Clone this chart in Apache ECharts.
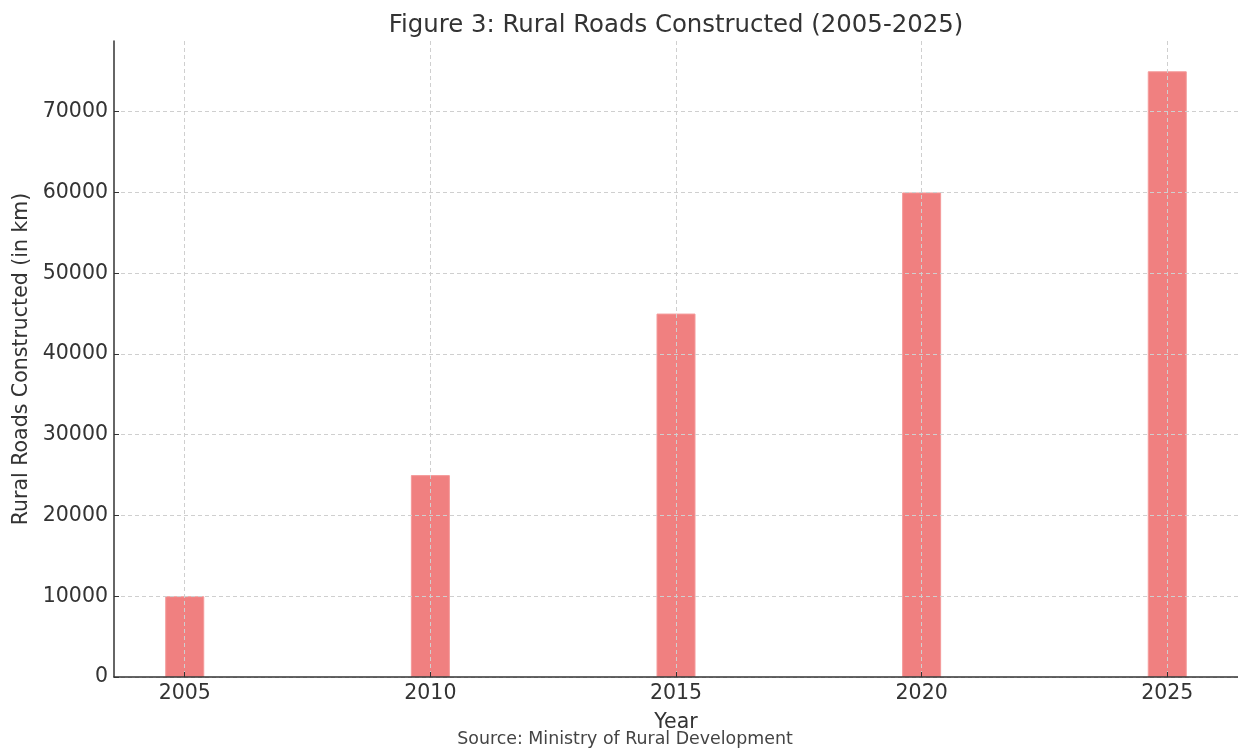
<!DOCTYPE html>
<html>
<head>
<meta charset="utf-8">
<title>Rural Roads Constructed</title>
<script src="https://cdn.jsdelivr.net/npm/echarts@6/dist/echarts.min.js"></script>
<style>
  html, body { margin: 0; padding: 0; background: #fff; }
  #chart { width: 1238px; height: 749px; }
</style>
</head>
<body>
<div id="chart"></div>
<script>
// Years on the x axis and kilometres of rural road built in each
const years = [2005, 2010, 2015, 2020, 2025];
const roadsKm = [10000, 25000, 45000, 60000, 75000];
const yTicks = [0, 10000, 20000, 30000, 40000, 50000, 60000, 70000];

const textColor = '#333333';
const font = 'DejaVu Sans';

const chart = echarts.init(document.getElementById('chart'));

// x range padded by 5% around the bar extents (bar width 0.8 year)
const xLo = years[0] - 0.4, xHi = years[years.length - 1] + 0.4;
const xPad = (xHi - xLo) * 0.05;
const yMax = Math.max(...roadsKm) * 1.05;

const gridLine = { show: true, lineStyle: { color: '#cfcfcf', width: 1, type: [4, 3] } };

chart.setOption({
  animation: false,
  backgroundColor: '#ffffff',
  title: [
    {
      text: 'Figure 3: Rural Roads Constructed (2005-2025)',
      left: 671, top: 9, textAlign: 'center',
      textStyle: { fontFamily: font, fontSize: 24.4, fontWeight: 'normal', color: textColor }
    },
    {
      text: 'Source: Ministry of Rural Development',
      left: 620, top: 726, textAlign: 'center',
      textStyle: { fontFamily: font, fontSize: 17.4, fontWeight: 'normal', color: '#444444' }
    }
  ],
  grid: { left: 114, right: 0, top: 41, bottom: 72, containLabel: false },
  xAxis: {
    type: 'value',
    min: xLo - xPad,
    max: xHi + xPad,
    z: 10,
    name: 'Year',
    nameLocation: 'middle',
    nameGap: 35,
    nameTextStyle: { fontFamily: font, fontSize: 20.5, color: textColor },
    axisLine: { show: true, lineStyle: { color: '#333333', width: 1.5 } },
    axisTick: { show: true, inside: true, length: 5, customValues: years, lineStyle: { color: '#333333' } },
    axisLabel: {
      customValues: years, fontFamily: font, fontSize: 20.5, color: textColor, margin: 6,
      formatter: v => String(v)
    },
    splitLine: gridLine
  },
  yAxis: {
    type: 'value',
    min: 0,
    max: yMax,
    z: 10,
    name: 'Rural Roads Constructed (in km)',
    nameLocation: 'middle',
    nameGap: 80,
    nameTextStyle: { fontFamily: font, fontSize: 20.5, color: textColor },
    axisLine: { show: true, lineStyle: { color: '#333333', width: 1.5 } },
    axisTick: { show: true, inside: true, length: 5, customValues: yTicks, lineStyle: { color: '#333333' } },
    axisLabel: {
      customValues: yTicks, fontFamily: font, fontSize: 20.5, color: textColor, margin: 6,
      formatter: v => String(v)
    },
    splitLine: gridLine
  },
  series: [{
    type: 'bar',
    data: years.map((y, i) => [y, roadsKm[i]]),
    barWidth: 39,
    itemStyle: { color: '#f08080', borderColor: '#f49a9a', borderWidth: 1 }
  }]
});
</script>
</body>
</html>
